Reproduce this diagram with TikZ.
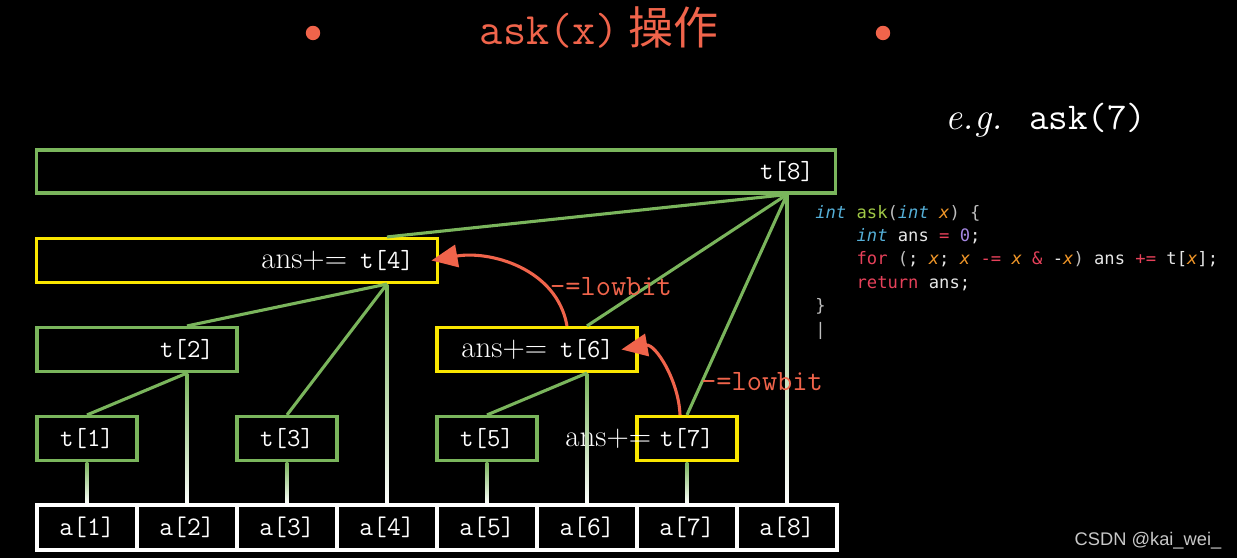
\documentclass[tikz,border=0pt]{standalone}
\usepackage{fontspec}
\newfontfamily\cjkfont{Noto Sans CJK SC}
\newfontfamily\codefont{DejaVu Sans Mono}
\newfontfamily\markfont{Liberation Sans}
\usetikzlibrary{positioning,arrows.meta,calc}

\definecolor{treegreen}{RGB}{122,181,92}
\definecolor{pathyellow}{RGB}{250,230,0}
\definecolor{hint}{RGB}{240,100,75}
\definecolor{kwblue}{RGB}{85,175,215}
\definecolor{fngreen}{RGB}{160,200,70}
\definecolor{punct}{RGB}{190,190,190}
\definecolor{argorange}{RGB}{240,150,40}
\definecolor{ident}{RGB}{230,230,230}
\definecolor{opred}{RGB}{230,65,90}
\definecolor{numpurple}{RGB}{165,135,225}

\begin{document}
\begin{tikzpicture}[
  x=0.025cm, y=0.025cm,
  tbox/.style={draw=treegreen, line width=2.2pt, fill=black, minimum height=1.1cm, inner sep=0pt,
    text=white, font=\fontsize{18.5}{18.5}\ttfamily},
  hbox/.style={tbox, draw=pathyellow},
  abox/.style={draw=white, line width=2.2pt, fill=black, minimum width=2.5cm, minimum height=1.125cm,
    inner sep=0pt, text=white, font=\fontsize{19}{19}\ttfamily},
  idx/.style={text=white, inner sep=1pt, font=\fontsize{18.5}{18.5}\ttfamily},
  acc/.style={text=white, inner sep=0pt, font=\fontsize{22}{22}\selectfont},
  edge/.style={treegreen, line width=2.2pt},
  jump/.style={hint, line width=2.2pt, -{Triangle[length=0.65cm, width=0.56cm]}},
  jumplbl/.style={text=hint, inner sep=0pt, font=\fontsize{21}{21}\ttfamily},
  dot/.style={circle, fill=hint, minimum size=0.36cm, inner sep=0pt}
]
\fill[black] (0,0) rectangle (1237,558);
\useasboundingbox (0,0) rectangle (1237,558);

% title
\node[dot] (dotl) at (313,525) {};
\node[dot] (dotr) at (883,525) {};
\node[text=hint, anchor=base, font=\fontsize{32}{32}\ttfamily] (title) at (599,513)
  {ask(x)\hspace{0.2em}{\cjkfont 操作}};
\node[text=white, anchor=base, font=\fontsize{27}{27}\selectfont] (eg) at (1046,428)
  {\textit{e.g.}\hspace{0.7em}\texttt{ask(7)}};

% array
\foreach \i in {1,...,8}
  \node[abox] (a\i) at ({87+100*(\i-1)},30.5) {a[\i]};

% tree
\node[tbox, minimum width=19.95cm, minimum height=1.075cm] (t8) at (436,386.5) {};
\node[hbox, minimum width=10cm] (t4) at (237,297.5) {};
\node[tbox, minimum width=5cm] (t2) at (137,208.5) {};
\node[hbox, minimum width=5cm] (t6) at (537,208.5) {};
\node[tbox, minimum width=2.5cm] (t1) at (87,119.5) {t[1]};
\node[tbox, minimum width=2.5cm] (t3) at (287,119.5) {t[3]};
\node[tbox, minimum width=2.5cm] (t5) at (487,119.5) {t[5]};
\node[hbox, minimum width=2.5cm] (t7) at (687,119.5) {t[7]};

\node[idx] (l8) at (t8 -| a8) {t[8]};
\node[idx] (l4) at (t4 -| a4) {t[4]};
\node[idx] (l2) at (t2 -| a2) {t[2]};
\node[idx] (l6) at (t6 -| a6) {t[6]};
\node[acc, anchor=base east] (s4) at ([xshift=-0.28cm]l4.base west) {ans+=};
\node[acc, anchor=base east] (s6) at ([xshift=-0.28cm]l6.base west) {ans+=};
\node[acc, anchor=base east] (s7) at ([xshift=-0.22cm]t7.text) {ans+=};

\foreach \s/\d in {t8/8, t4/4, t2/2, t6/6, t1/1, t3/3, t5/5, t7/7}
  \shade[top color=treegreen, bottom color=white]
    ($(\s.south -| a\d)+(-1.4,0)$) rectangle ($(a\d.north)+(1.4,0)$);

\draw[edge] (t8.south -| a8) -- (t4.north -| a4);
\draw[edge] (t8.south -| a8) -- (t6.north -| a6);
\draw[edge] (t8.south -| a8) -- (t7.north);
\draw[edge] (t4.south -| a4) -- (t2.north -| a2);
\draw[edge] (t4.south -| a4) -- (t3.north);
\draw[edge] (t2.south -| a2) -- (t1.north);
\draw[edge] (t6.south -| a6) -- (t5.north);

% ask(7): 7 -> 6 -> 4
\node[jumplbl] (low1) at (611,271) {-=lowbit};
\node[jumplbl] (low2) at (762,176) {-=lowbit};
\draw[jump] ([xshift=0.75cm]t6.north) to[out=100, in=10] ([xshift=0.4cm]l4.east);
\draw[jump] ([xshift=-0.175cm]t7.north) to[out=92, in=10] ([xshift=0.15cm]l6.east);

% code
\node[anchor=north west, inner sep=0pt, align=left, text=ident,
  font=\fontsize{12.2}{16.6}\codefont] (code) at (815,353) {%
  {\color{kwblue}\itshape int} {\color{fngreen}ask}{\color{punct}(}{\color{kwblue}\itshape int}
  {\color{argorange}\itshape x}{\color{punct})} {\color{punct}\{}\\
  \phantom{xxxx}{\color{kwblue}\itshape int} ans {\color{opred}=} {\color{numpurple}0};\\
  \phantom{xxxx}{\color{opred}for} {\color{punct}(}; {\color{argorange}\itshape x};
  {\color{argorange}\itshape x} {\color{opred}-=} {\color{argorange}\itshape x} {\color{opred}\&}
  -{\color{argorange}\itshape x}{\color{punct})} ans {\color{opred}+=}
  t[{\color{argorange}\itshape x}];\\
  \phantom{xxxx}{\color{opred}return} ans;\\
  {\color{punct}\}}\\
  {\color{punct}|}};

\node[anchor=base, inner sep=0pt, text={rgb,255:red,200;green,200;blue,200},
  font=\fontsize{13}{13}\markfont] (mark) at (1148,12) {CSDN @kai\_wei\_};
\end{tikzpicture}
\end{document}
